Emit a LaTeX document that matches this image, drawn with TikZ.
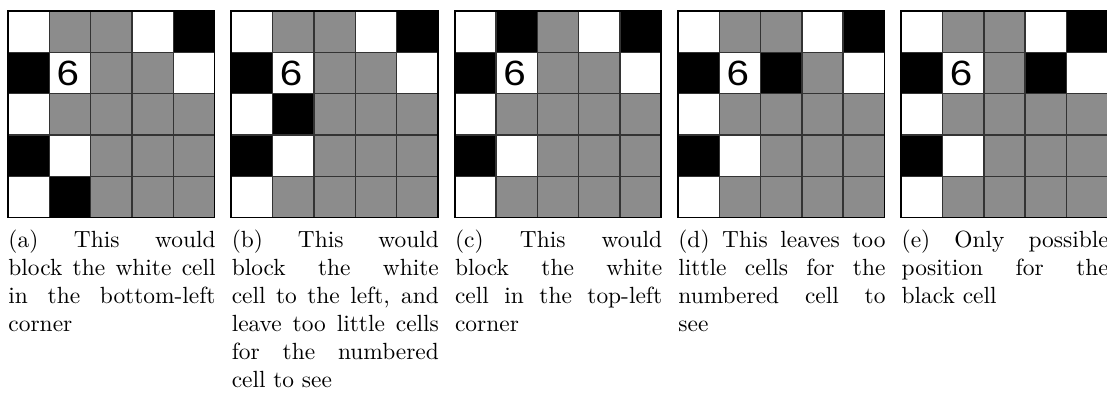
\documentclass[tikz,border=0pt]{standalone}
\usepackage{fontspec}
\newfontfamily\digitfont{Liberation Sans}
\usetikzlibrary{positioning}
\definecolor{cellgray}{RGB}{140,140,140}
\tolerance=10000
\hbadness=10000

\begin{document}
\begin{tikzpicture}[x=0.6204cm, y=-0.6204cm,
    gridline/.style={draw=black!80, line width=0.6pt},
    frame/.style={draw=black, line width=0.8pt},
    numtext/.style={inner sep=0pt, font=\digitfont\fontsize{15}{15}\selectfont},
    captext/.style={inner sep=0pt, anchor=north west, text width=88.5pt, align=justify}]
  \useasboundingbox (0,0) rectangle (26.80,9.613);
  % one board per sub-figure; only the extra black cell changes
  \foreach \px/\bx/\by/\lbl/\txt in {
      0/2/5/a/{This would\linebreak block the white cell\linebreak in the bottom-left\linebreak corner},
      1/2/3/b/{This would\linebreak block the white\linebreak cell to the left, and\linebreak leave too little cells\linebreak for the numbered\linebreak cell to see},
      2/2/1/c/{This would\linebreak block the white\linebreak cell in the top-left\linebreak corner},
      3/3/2/d/{This leaves too\linebreak little cells for the\linebreak numbered cell to\linebreak see},
      4/4/2/e/{Only possible\linebreak position for the\linebreak black cell}} {
    \begin{scope}[shift={(0.194+5.406*\px,0.266)}]
      \fill[cellgray] (0,0) rectangle (5,5);
      \foreach \cx/\cy in {1/1,4/1,2/2,5/2,1/3,2/4,1/5}
        \fill[white] (\cx-1,\cy-1) rectangle ++(1,1);
      \foreach \cx/\cy in {5/1,1/2,1/4,\bx/\by}
        \fill[black] (\cx-1,\cy-1) rectangle ++(1,1);
      \foreach \k in {1,...,4} {
        \draw[gridline] (\k,0) -- (\k,5);
        \draw[gridline] (0,\k) -- (5,\k);
      }
      \draw[frame] (0,0) rectangle (5,5);
      \node[numtext] (num-\lbl) at (1.45,1.5) {\scalebox{1.15}[1]{6}};
    \end{scope}
    \node[captext] (cap-\lbl) at (0.194+5.406*\px,5.555) {(\lbl) \txt};
  }
\end{tikzpicture}
\end{document}
